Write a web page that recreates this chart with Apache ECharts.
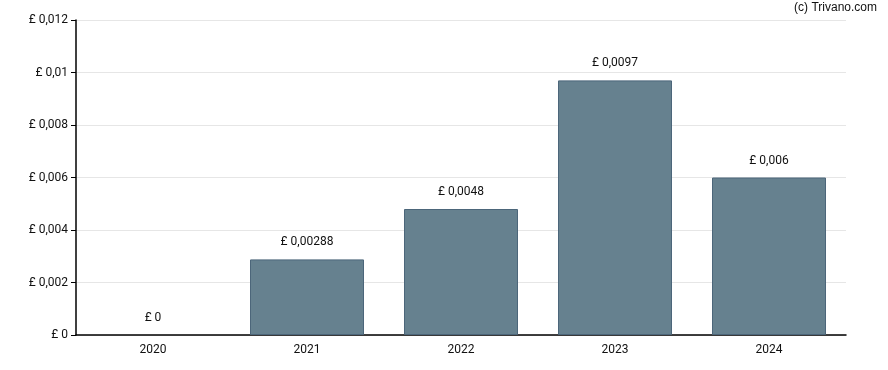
<!DOCTYPE html>
<html><head><meta charset="utf-8">
<script src="https://cdn.jsdelivr.net/npm/echarts@6/dist/echarts.min.js"></script>
<style>html,body{margin:0;padding:0;background:#fff}#c{width:888px;height:370px}</style>
</head><body><div id="c"></div>
<script>
var categories = ['2020', '2021', '2022', '2023', '2024'];
var values = [0, 0.00288, 0.0048, 0.0097, 0.006];
var yTicks = [0, 0.002, 0.004, 0.006, 0.008, 0.01, 0.012];

function fmt(v) { return '£ ' + String(parseFloat(Number(v).toFixed(6))).replace('.', ','); }

var chart = echarts.init(document.getElementById('c'));
chart.setOption({
  animation: false,
  textStyle: { fontFamily: 'Roboto' },
  graphic: [{ type: 'text', right: 11, top: 2, style: { text: '(c) Trivano.com', font: '12px "Liberation Sans", Arial, sans-serif', fill: '#111' } }],
  grid: { left: 76, right: 42, top: 20, bottom: 35 },
  xAxis: {
    type: 'category', data: categories,
    axisLine: { lineStyle: { color: '#000', width: 1.5 } },
    axisTick: { alignWithLabel: true, length: 5, lineStyle: { color: '#000' } },
    axisLabel: { color: '#111', fontSize: 12, margin: 9 }
  },
  yAxis: {
    type: 'value', min: yTicks[0], max: yTicks[yTicks.length - 1], interval: 0.002,
    axisLine: { show: true, lineStyle: { color: '#000', width: 1.5 } },
    axisTick: { show: true, length: 5, lineStyle: { color: '#000' } },
    axisLabel: { color: '#111', fontSize: 12, margin: 8, formatter: fmt },
    splitLine: { lineStyle: { color: '#e6e6e6' } }
  },
  series: [{
    type: 'bar', barWidth: 114,
    data: values.map(function (v) {
      return v > 0 ? v : { value: v, itemStyle: { borderWidth: 0 } };
    }),
    itemStyle: { color: '#66818f', borderColor: '#4c667a', borderWidth: 1 },
    label: { show: true, position: 'top', distance: 11, color: '#111', fontSize: 12, formatter: function (p) { return fmt(p.value); } }
  }]
});
</script></body></html>
